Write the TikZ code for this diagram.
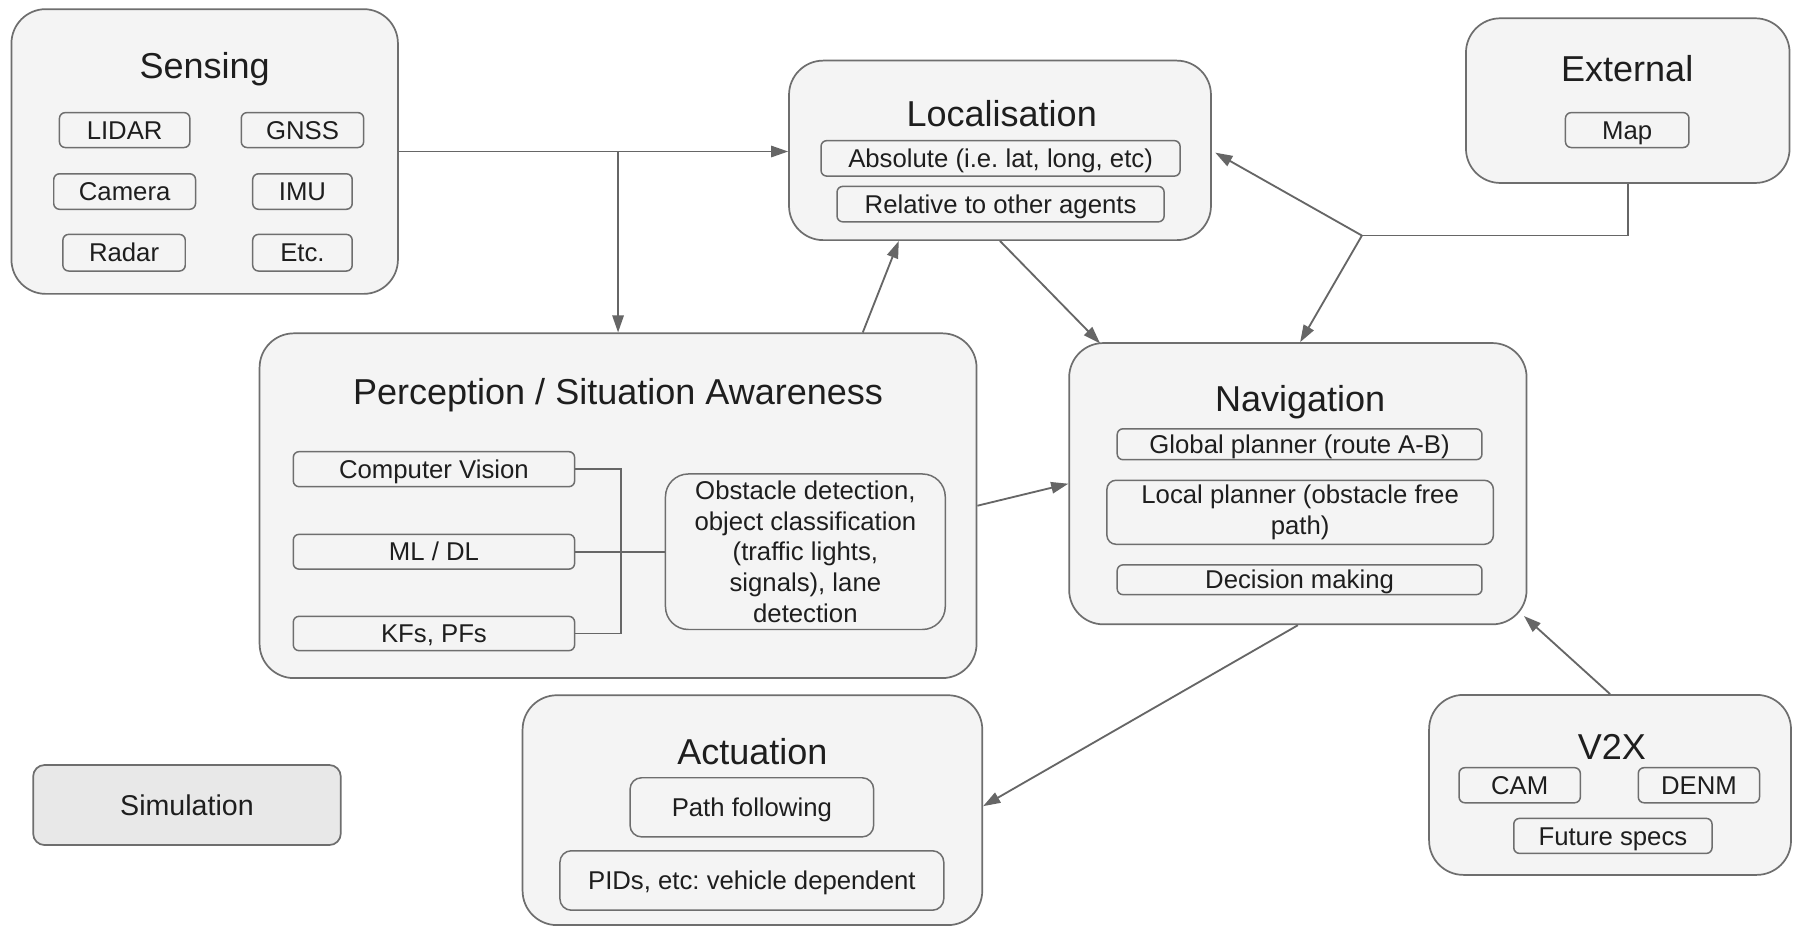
\documentclass[tikz,border=0pt]{standalone}
\usepackage{fontspec}
\setmainfont{Liberation Sans}
\usetikzlibrary{arrows.meta,calc}
\definecolor{boxfill}{HTML}{F4F4F4}
\definecolor{boxdraw}{HTML}{6E6E6E}
\definecolor{linecol}{HTML}{666666}
\definecolor{simfill}{HTML}{E8E8E8}
\definecolor{txt}{HTML}{1E1E1E}
\frenchspacing
\begin{document}
\begin{tikzpicture}[x=1pt,y=-1pt,
  bigbox/.style={draw=boxdraw, fill=boxfill, line width=1.5pt, rounded corners=30pt, inner sep=0pt},
  subbox/.style={draw=boxdraw, fill=boxfill, line width=1.3pt, rounded corners=5pt, inner sep=0pt,
     text=txt, font=\fontsize{22.5}{27}\selectfont, text height=16.1pt, text depth=0pt},
  multibox/.style={draw=boxdraw, fill=boxfill, line width=1.3pt, rounded corners=14pt, inner sep=0pt,
     text=txt, font=\fontsize{22.5}{27}\selectfont, align=center},
  title/.style={inner sep=0pt, text=txt, font=\fontsize{31.5}{37}\selectfont, text height=22.5pt, text depth=0pt},
  conn/.style={draw=linecol, line width=1.6pt},
  arr/.style={conn, -{Triangle[length=15pt,width=10pt]}},
]
\fill[white] (0,0) rectangle (1568,810);
\useasboundingbox (0,0) rectangle (1568,810);

% Sensing
\node[bigbox, minimum width=338pt, minimum height=249pt] (sensing) at (179,132.5) {};
\node[title] (sensingT) at (179,57) {Sensing};
\node[subbox, minimum width=114pt, minimum height=30.5pt] (lidar) at (109,113.75) {LIDAR};
\node[subbox, minimum width=107pt, minimum height=30.5pt] (gnss) at (264.5,113.75) {GNSS};
\node[subbox, minimum width=124pt, minimum height=31pt] (camera) at (109,167.5) {Camera};
\node[subbox, minimum width=87pt, minimum height=31pt] (imu) at (264.5,167.5) {IMU};
\node[subbox, minimum width=107pt, minimum height=32pt] (radar) at (108.5,221) {Radar};
\node[subbox, minimum width=87pt, minimum height=32pt] (etc) at (264.5,221) {Etc.};

% Localisation
\node[bigbox, minimum width=369pt, minimum height=157pt] (loc) at (874.5,131.5) {};
\node[title] (locT) at (876,99) {Localisation};
\node[subbox, minimum width=314pt, minimum height=31pt] (abs) at (875,138.5) {Absolute (i.e. lat, long, etc)};
\node[subbox, minimum width=286pt, minimum height=31pt] (rel) at (875,178.5) {Relative to other agents};

% External
\node[bigbox, minimum width=283pt, minimum height=144pt] (ext) at (1423.5,88) {};
\node[title] (extT) at (1423,60) {External};
\node[subbox, minimum width=108pt, minimum height=30.5pt] (map) at (1423,113.75) {Map};

% Perception
\node[bigbox, minimum width=627pt, minimum height=301.5pt] (perc) at (540.5,442.25) {};
\node[title] (percT) at (540.5,342.5) {Perception / Situation Awareness};
\node[subbox, minimum width=246pt, minimum height=30.6pt] (cv) at (379.5,410.3) {Computer Vision};
\node[subbox, minimum width=246pt, minimum height=30.4pt] (ml) at (379.5,482.5) {ML / DL};
\node[subbox, minimum width=246pt, minimum height=30pt] (kf) at (379.5,554) {KFs, PFs};
\node[multibox, rounded corners=20pt, minimum width=244.7pt, minimum height=136pt] (obs) at (704.3,482.5)
  {Obstacle detection,\\object classification\\(traffic lights,\\signals), lane\\detection};

% Navigation
\node[bigbox, minimum width=400pt, minimum height=246pt] (nav) at (1135,423) {};
\node[title] (navT) at (1137,348.5) {Navigation};
\node[subbox, minimum width=319pt, minimum height=27pt] (glob) at (1136.5,388.5) {Global planner (route A-B)};
\node[multibox, rounded corners=8pt, minimum width=338pt, minimum height=56pt] (local) at (1137,448)
  {Local planner (obstacle free\\path)};
\node[subbox, minimum width=319pt, minimum height=26pt] (dec) at (1136.5,507) {Decision making};

% Actuation
\node[bigbox, minimum width=402pt, minimum height=201pt] (act) at (658,708.5) {};
\node[title] (actT) at (658,657.4) {Actuation};
\node[subbox, rounded corners=10pt, minimum width=213pt, minimum height=51.7pt] (path) at (657.5,706) {Path following};
\node[subbox, rounded corners=10pt, minimum width=335.7pt, minimum height=52pt] (pid) at (657.5,770) {PIDs, etc: vehicle dependent};

% V2X
\node[bigbox, minimum width=316.5pt, minimum height=157.4pt] (v2x) at (1408,686.4) {};
\node[title] (v2xT) at (1409.6,653) {V2X};
\node[subbox, minimum width=106pt, minimum height=30.7pt] (cam) at (1329,686.7) {CAM};
\node[subbox, minimum width=106pt, minimum height=30.7pt] (denm) at (1485.7,686.7) {DENM};
\node[subbox, minimum width=173.4pt, minimum height=30.6pt] (fut) at (1410.5,731) {Future specs};

% Simulation
\node[draw=boxdraw, fill=simfill, line width=1.5pt, rounded corners=10pt, inner sep=0pt,
  minimum width=269pt, minimum height=70pt, text=txt, font=\fontsize{25}{30}\selectfont,
  text height=17.9pt, text depth=0pt] (sim) at (163.5,704) {Simulation};

% Connectors
\coordinate (br) at (perc.north |- sensing.east);
\draw[arr] (sensing.east) -- (sensing.east -| loc.west);
\draw[arr] (br) -- (perc.north);
\draw[arr] ([xshift=214pt]perc.north) -- ([xshift=-88.5pt]loc.south);
\draw[arr] (loc.south) -- ([xshift=-173pt,yshift=-1pt]nav.north);
\coordinate (jn) at (1191,206);
\draw[conn] (ext.south) |- (jn);
\draw[arr] (jn) -- ([xshift=3pt,yshift=-2pt]loc.east);
\draw[arr] (jn) -- ([xshift=2pt]nav.north);
\draw[arr] (perc.east) -- (nav.west);
\draw[arr] (nav.south) -- ([yshift=3.5pt]act.east);
\draw[arr] (v2x.north) -- ([xshift=-3pt,yshift=8pt]nav.south east);

% internal perception connectors
\draw[conn] (cv.east) -- ++(40,0) |- (kf.east);
\draw[conn] (ml.east) -- (ml.east -| obs.west);
\end{tikzpicture}
\end{document}
